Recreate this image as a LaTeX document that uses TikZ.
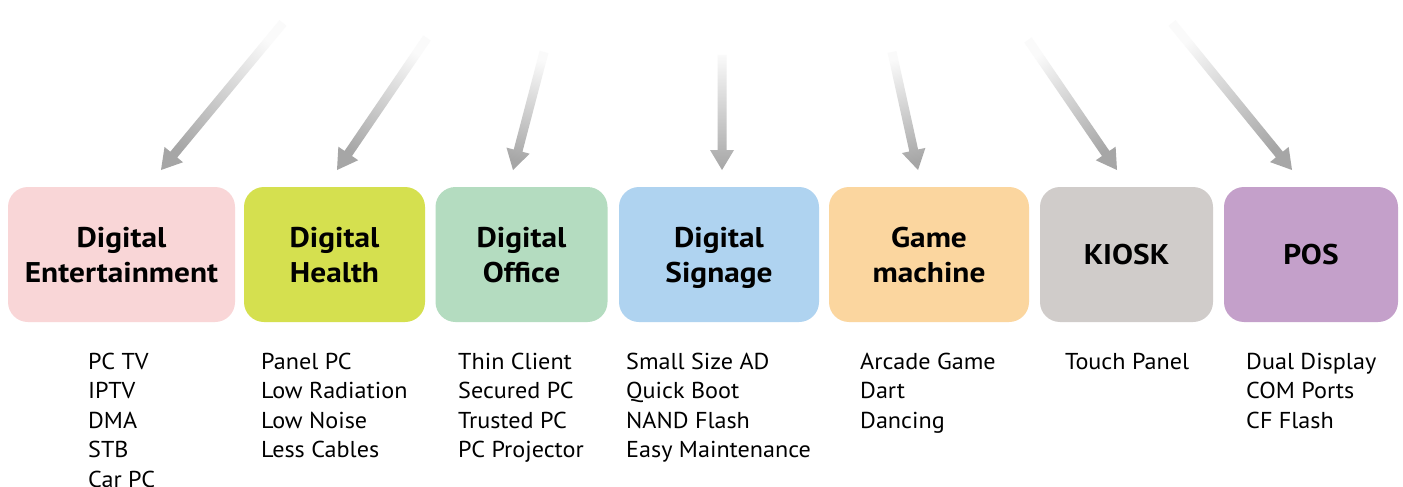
\documentclass[tikz,border=0pt]{standalone}
\usepackage{fontspec}
\setmainfont{PT Sans}
\newfontfamily\titlefont{PT Sans}[FakeStretch=1.1]
\newfontfamily\listfont{PT Sans}[FakeStretch=1.05]
\usetikzlibrary{calc}
\definecolor{cEnt}{HTML}{F9D6D7}
\definecolor{cHea}{HTML}{D5E04F}
\definecolor{cOff}{HTML}{B4DCC0}
\definecolor{cSig}{HTML}{AFD3F0}
\definecolor{cGam}{HTML}{FBD69F}
\definecolor{cKio}{HTML}{D0CCCA}
\definecolor{cPos}{HTML}{C4A0CA}
\definecolor{agray}{HTML}{A6A6A6}
\newcommand\nodp[1]{\raisebox{0pt}[\height][0pt]{#1}}
\tikzset{
  catbox/.style={rounded corners=20pt, minimum height=135pt, inner sep=0pt,
    align=center, font=\titlefont\fontsize{28.5}{35}\selectfont\bfseries},
  featlist/.style={anchor=base west, inner sep=0pt, align=left,
    font=\listfont\fontsize{23}{29.5}\selectfont},
  arrowshade/.style={top color=white!94!agray, middle color=agray, bottom color=agray}
}
% gradient arrow from coordinate #1 to coordinate #2
\newcommand\garrow[2]{%
  \path (#1); \pgfgetlastxy{\gax}{\gay}%
  \path (#2); \pgfgetlastxy{\gbx}{\gby}%
  \pgfmathsetmacro\gang{atan2(\gay-\gby,\gax-\gbx)-90}%
  \shade[arrowshade, shading angle=\gang]
    ($(#1)!4.5pt!90:(#2)$) --
    ($($(#2)!20pt!(#1)$)!4.5pt!-90:(#1)$) --
    ($($(#2)!20pt!(#1)$)!12pt!-90:(#1)$) --
    (#2) --
    ($($(#2)!20pt!(#1)$)!12pt!90:(#1)$) --
    ($($(#2)!20pt!(#1)$)!4.5pt!90:(#1)$) --
    ($(#1)!4.5pt!-90:(#2)$) -- cycle;
}
\begin{document}
\begin{tikzpicture}[x=1pt, y=-1pt]
\useasboundingbox (0,0) rectangle (1403,487);
\fill[white] (0,0) rectangle (1403,487);

% category boxes
\node[catbox, fill=cEnt, minimum width=227pt] (b1) at (121.5,254.5) {Digital\\\nodp{Entertainment}};
\node[catbox, fill=cHea, minimum width=181pt] (b2) at (334.5,254.5) {Digital\\\nodp{Health}};
\node[catbox, fill=cOff, minimum width=172pt] (b3) at (521.5,254.5) {Digital\\\nodp{Office}};
\node[catbox, fill=cSig, minimum width=200pt] (b4) at (719,254.5) {Digital\\\nodp{Signage}};
\node[catbox, fill=cGam, minimum width=200pt] (b5) at (929,254.5) {Game\vphantom{Dl}\\\nodp{machine}};
\node[catbox, fill=cKio, minimum width=173pt] (b6) at (1126.5,254.5) {KIOSK};
\node[catbox, fill=cPos, minimum width=174pt] (b7) at (1311,254.5) {POS};

% feature lists (base = baseline of the last line)
\node[featlist] (l1) at (88,487) {PC TV\\IPTV\\DMA\\STB\\Car PC};
\node[featlist] (l2) at (261,457.5) {Panel PC\\Low Radiation\\Low Noise\\Less Cables};
\node[featlist] (l3) at (458,457.5) {Thin Client\\Secured PC\\Trusted PC\\PC Projector};
\node[featlist] (l4) at (626,457.5) {Small Size AD\\Quick Boot\\NAND Flash\\Easy Maintenance};
\node[featlist] (l5) at (860,428) {Arcade Game\\Dart\\Dancing};
\node[featlist] (l6) at (1065,369) {Touch Panel};
\node[featlist] (l7) at (1246,428) {Dual Display\\COM Ports\\CF Flash};

% arrow end points
\coordinate (s1) at (283,23);   \coordinate (t1) at (161,170);
\coordinate (s2) at (427,38);   \coordinate (t2) at (337,170);
\coordinate (s3) at (544,52);   \coordinate (t3) at (513,170);
\coordinate (s4) at (722,55);   \coordinate (t4) at (722,170);
\coordinate (s5) at (892,52);   \coordinate (t5) at (918,170);
\coordinate (s6) at (1028,40);  \coordinate (t6) at (1117,170);
\coordinate (s7) at (1172,23);  \coordinate (t7) at (1292,170);

\garrow{s1}{t1}
\garrow{s2}{t2}
\garrow{s3}{t3}
\garrow{s4}{t4}
\garrow{s5}{t5}
\garrow{s6}{t6}
\garrow{s7}{t7}
\end{tikzpicture}
\end{document}
